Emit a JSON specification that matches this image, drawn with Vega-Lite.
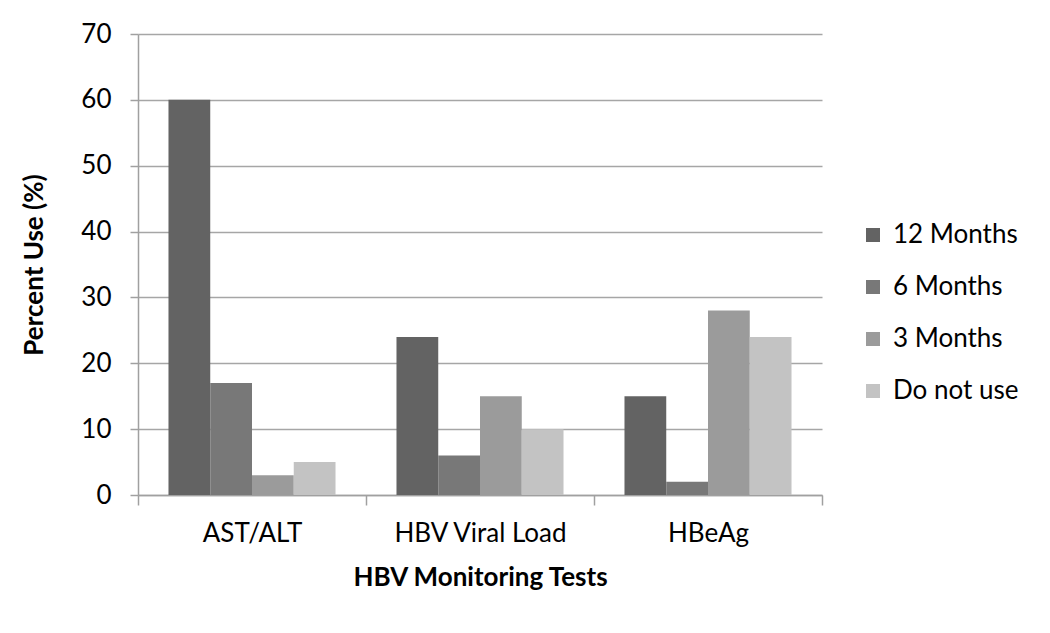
{
  "$schema": "https://vega.github.io/schema/vega-lite/v6.json",
  "width": 684,
  "height": 461,
  "autosize": "none",
  "padding": {"left": 138, "top": 34, "right": 228, "bottom": 138},
  "background": "white",
  "data": {
    "values": [
      {"test": "AST/ALT", "freq": "12 Months", "pct": 60},
      {"test": "AST/ALT", "freq": "6 Months", "pct": 17},
      {"test": "AST/ALT", "freq": "3 Months", "pct": 3},
      {"test": "AST/ALT", "freq": "Do not use", "pct": 5},
      {"test": "HBV Viral Load", "freq": "12 Months", "pct": 24},
      {"test": "HBV Viral Load", "freq": "6 Months", "pct": 6},
      {"test": "HBV Viral Load", "freq": "3 Months", "pct": 15},
      {"test": "HBV Viral Load", "freq": "Do not use", "pct": 10},
      {"test": "HBeAg", "freq": "12 Months", "pct": 15},
      {"test": "HBeAg", "freq": "6 Months", "pct": 2},
      {"test": "HBeAg", "freq": "3 Months", "pct": 28},
      {"test": "HBeAg", "freq": "Do not use", "pct": 24}
    ]
  },
  "mark": {"type": "bar"},
  "encoding": {
    "x": {
      "field": "test",
      "type": "nominal",
      "sort": ["AST/ALT", "HBV Viral Load", "HBeAg"],
      "scale": {"paddingInner": 0, "paddingOuter": 0},
      "axis": {
        "title": "HBV Monitoring Tests",
        "labelAngle": 0,
        "tickBand": "extent",
        "tickSize": 10,
        "tickColor": "#a0a0a0",
        "tickWidth": 1.5,
        "domainColor": "#a0a0a0",
        "domainWidth": 1.5,
        "labelPadding": 15,
        "titlePadding": 18,
        "grid": false
      }
    },
    "xOffset": {
      "field": "freq",
      "type": "nominal",
      "sort": ["12 Months", "6 Months", "3 Months", "Do not use"],
      "scale": {"paddingInner": 0, "paddingOuter": 0.73}
    },
    "y": {
      "field": "pct",
      "type": "quantitative",
      "scale": {"domain": [0, 70]},
      "axis": {
        "title": "Percent Use (%)",
        "values": [0, 10, 20, 30, 40, 50, 60, 70],
        "tickSize": 8,
        "tickColor": "#a0a0a0",
        "tickWidth": 1.5,
        "domainColor": "#a0a0a0",
        "domainWidth": 1.5,
        "gridColor": "#a6a6a6",
        "gridWidth": 1.5,
        "labelPadding": 19,
        "titlePadding": 33
      }
    },
    "color": {
      "field": "freq",
      "type": "nominal",
      "sort": ["12 Months", "6 Months", "3 Months", "Do not use"],
      "scale": {
        "domain": ["12 Months", "6 Months", "3 Months", "Do not use"],
        "range": ["#636363", "#787878", "#9b9b9b", "#c3c3c3"]
      },
      "legend": {
        "title": null,
        "orient": "none",
        "legendX": 722,
        "legendY": 188,
        "symbolType": "square",
        "symbolSize": 196,
        "symbolStrokeWidth": 0,
        "labelFontSize": 26,
        "labelOffset": 7,
        "rowPadding": 26
      }
    }
  },
  "config": {
    "font": "Lato",
    "view": {"stroke": null},
    "axis": {
      "labelFont": "Lato",
      "labelFontSize": 26,
      "labelColor": "#000000",
      "titleFont": "Lato",
      "titleFontSize": 26,
      "titleFontWeight": "bold",
      "titleColor": "#000000"
    },
    "legend": {"labelFont": "Lato", "labelColor": "#000000"}
  }
}
